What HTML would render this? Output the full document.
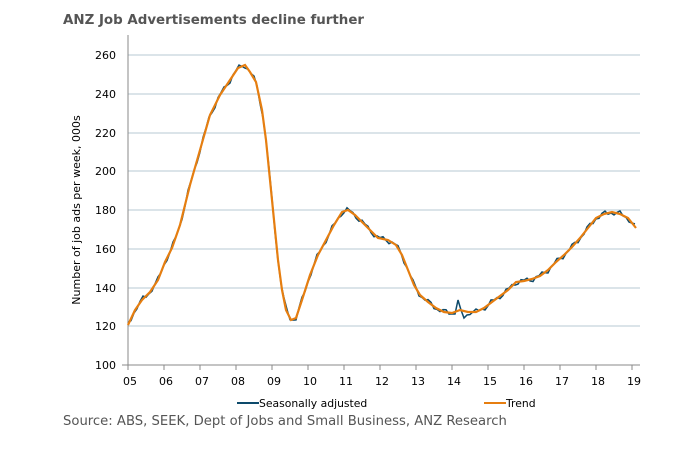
<!DOCTYPE html>
<html><head><meta charset="utf-8"><style>
body{margin:0;background:#fff;width:699px;height:469px;overflow:hidden;font-family:Verdana,"DejaVu Sans",sans-serif}
</style></head><body>
<svg width="699" height="469" xmlns="http://www.w3.org/2000/svg" font-family="Verdana, 'DejaVu Sans', sans-serif">
<text x="63" y="24" font-size="13.4" font-weight="bold" fill="#555">ANZ Job Advertisements decline further</text>
<g stroke="#b7c9d3" stroke-width="1">
<line x1="128" x2="640" y1="55" y2="55"/><line x1="128" x2="640" y1="94" y2="94"/>
<line x1="128" x2="640" y1="133" y2="133"/><line x1="128" x2="640" y1="171" y2="171"/>
<line x1="128" x2="640" y1="210" y2="210"/><line x1="128" x2="640" y1="249" y2="249"/>
<line x1="128" x2="640" y1="288" y2="288"/><line x1="128" x2="640" y1="326" y2="326"/>
</g>
<g stroke="#888" stroke-width="1"><line x1="128" y1="35" x2="128" y2="365"/><line x1="122" y1="365" x2="640" y2="365"/></g>
<g id="ticks" stroke="#888"></g>
<g font-size="11" fill="#000" text-anchor="end">
<text x="116" y="59">260</text><text x="116" y="98">240</text><text x="116" y="137">220</text>
<text x="116" y="175">200</text><text x="116" y="214">180</text><text x="116" y="253">160</text>
<text x="116" y="292">140</text><text x="116" y="330">120</text><text x="116" y="369">100</text>
</g>
<g id="xl" font-size="11" fill="#000" text-anchor="middle"></g>
<text transform="translate(80,210) rotate(-90)" font-size="11" text-anchor="middle" fill="#000">Number of job ads per week, 000s</text>
<polyline id="sa" fill="none" stroke="#0d4a6b" stroke-width="1.5"/>
<polyline id="tr" fill="none" stroke="#e67e10" stroke-width="2.2"/>
<line x1="237" y1="403" x2="259" y2="403" stroke="#0d4a6b" stroke-width="2"/>
<text x="259" y="407" font-size="10.8" fill="#000">Seasonally adjusted</text>
<line x1="484" y1="403" x2="506" y2="403" stroke="#e67e10" stroke-width="2"/>
<text x="506" y="407" font-size="10.8" fill="#000">Trend</text>
<text x="63" y="425" font-size="13.2" fill="#555">Source: ABS, SEEK, Dept of Jobs and Small Business, ANZ Research</text>
</svg>
<script>
var ns="http://www.w3.org/2000/svg";
var xl=document.getElementById('xl'),tk=document.getElementById('ticks');
for(var i=0;i<15;i++){var x=128+36*i;var t=document.createElementNS(ns,'text');t.setAttribute('x',x+2);t.setAttribute('y',385);t.textContent=String(5+i).padStart(2,'0');xl.appendChild(t);
var l=document.createElementNS(ns,'line');l.setAttribute('x1',x);l.setAttribute('x2',x);l.setAttribute('y1',365);l.setAttribute('y2',370);tk.appendChild(l);}
var T=[[128,325],[135,310],[142,300],[150,292],[158,280],[165,262],[172,248],[180,225],[190,185],[200,150],[210,115],[220,95],[230,80],[238,68],[245,65],[250,72],[256,82],[262,110],[266,140],[270,180],[274,220],[278,260],[282,290],[286,310],[291,320],[296,318],[302,300],[310,275],[318,255],[326,240],[334,225],[342,212],[348,210],[355,215],[362,222],[370,230],[378,238],[388,240],[396,245],[402,255],[408,270],[414,285],[420,295],[428,302],[436,308],[444,312],[452,313],[460,310],[468,312],[476,312],[484,308],[492,302],[500,296],[508,290],[516,282],[524,281],[532,279],[540,276],[548,270],[556,262],[564,255],[572,247],[580,238],[588,228],[596,218],[604,214],[612,212],[620,214],[628,218],[636,228]];
document.getElementById('tr').setAttribute('points',T.map(p=>p.join(',')).join(' '));
function f(x){for(var i=0;i<T.length-1;i++){if(x<=T[i+1][0]){var a=T[i],b=T[i+1];return a[1]+(b[1]-a[1])*(x-a[0])/(b[0]-a[0]);}}return T[T.length-1][1];}
var ov={247:58,244:64,241:76,238:64,292:326,289:322,309:314,306:295,345:207,348:212,351:193,357:232,458:300,464:318,467:315,461:310};
var pts=[];for(var x=128;x<=636;x+=3){var y=f(x)+Math.sin(x*1.7)*2.2+Math.sin(x*0.83)*1.3;if(ov[x]!==undefined)y=ov[x];pts.push(x+','+y.toFixed(1));}
document.getElementById('sa').setAttribute('points',pts.join(' '));
</script>
</body></html>
